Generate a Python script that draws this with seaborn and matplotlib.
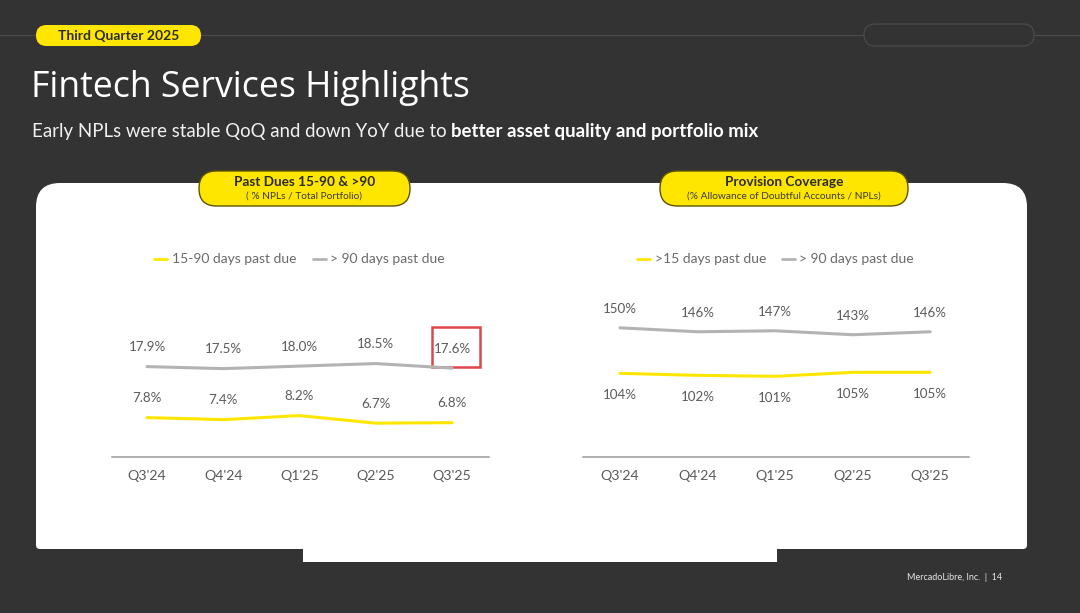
import numpy as np
import pandas as pd
import matplotlib
matplotlib.use('Agg')
import matplotlib.pyplot as plt
import seaborn as sns
from matplotlib.patches import FancyBboxPatch, Rectangle
from matplotlib.lines import Line2D

# ---------------- data ----------------
quarters = ["Q3'24", "Q4'24", "Q1'25", "Q2'25", "Q3'25"]
past_due_15_90 = [7.8, 7.4, 8.2, 6.7, 6.8]
past_due_90 = [17.9, 17.5, 18.0, 18.5, 17.6]
coverage_15 = [104, 102, 101, 105, 105]
coverage_90 = [150, 146, 147, 143, 146]

left_series = ["15-90 days past due", "> 90 days past due"]
right_series = [">15 days past due", "> 90 days past due"]

# ---------------- style ----------------
sns.set_theme(style='white')
plt.rcParams['font.family'] = ['Lato', 'DejaVu Sans']

BG = '#333333'
YEL = '#FFE600'
GRY = '#b3b3b3'
TXT = '#5a5a5a'

W, H = 1080, 613
fig = plt.figure(figsize=(W / 100, H / 100), dpi=100, facecolor=BG)
bg = fig.add_axes([0, 0, 1, 1])
bg.set_xlim(0, W)
bg.set_ylim(H, 0)
bg.axis('off')

# top rule and pills
for xa, xb in [(0, 36), (201, 864), (1034, 1080)]:
    bg.plot([xa, xb], [35, 35], color='#4a4a4a', lw=0.9, zorder=1)
bg.add_patch(FancyBboxPatch((36, 25), 165, 21, boxstyle='round,pad=0,rounding_size=10.5',
                            fc=YEL, ec='none', zorder=2))
bg.text(118.5, 36, 'Third Quarter 2025', ha='center', va='center', fontsize=10,
        fontweight='bold', color='#2b2b2b', zorder=3)
bg.add_patch(FancyBboxPatch((864, 24), 170, 22, boxstyle='round,pad=0,rounding_size=11',
                            fc=BG, ec='#4a4a4a', lw=0.9, zorder=2))

# title and subtitle
bg.text(31, 97, 'Fintech Services Highlights', ha='left', va='baseline', fontsize=25.7,
        color='#ffffff', family=['Open Sans', 'DejaVu Sans'])
t1 = bg.text(32, 136.5, 'Early NPLs were stable QoQ and down YoY due to', ha='left',
             va='baseline', fontsize=13.4, color='#f2f2f2')
renderer = fig.canvas.get_renderer()
bb = t1.get_window_extent(renderer)
x_end = bg.transData.inverted().transform((bb.x1, bb.y0))[0]
bg.text(x_end + 4.5, 136.5, 'better asset quality and portfolio mix', ha='left',
        va='baseline', fontsize=13.4, fontweight='bold', color='#ffffff')

# white card
bg.add_patch(FancyBboxPatch((36, 183), 991, 366, boxstyle='round,pad=0,rounding_size=24',
                            fc='white', ec='none', zorder=1))
bg.add_patch(FancyBboxPatch((36, 420), 991, 129, boxstyle='round,pad=0,rounding_size=4',
                            fc='white', ec='none', zorder=1))
bg.add_patch(Rectangle((303, 530), 474, 32, fc='white', ec='none', zorder=1))

# chart header pills
def header(x0, x1, title, sub):
    bg.add_patch(FancyBboxPatch((x0, 171), x1 - x0, 35, boxstyle='round,pad=0,rounding_size=17.5',
                                fc=YEL, ec='#5e5400', lw=1.0, zorder=3))
    cx = (x0 + x1) / 2
    bg.text(cx, 182, title, ha='center', va='center', fontsize=9.8, fontweight='bold',
            color='#2b2b2b', zorder=4)
    bg.text(cx, 196, sub, ha='center', va='center', fontsize=7.3, color='#3a3a3a', zorder=4)

header(199, 410, 'Past Dues 15-90 & >90', '( % NPLs / Total Portfolio)')
header(660, 908, 'Provision Coverage', '(% Allowance of Doubtful Accounts / NPLs)')

# legends (pixel positions)
def legend_item(x_line, x_text, y, color, label):
    bg.add_line(Line2D([x_line, x_line + 13], [y, y], color=color, lw=2, zorder=4))
    bg.text(x_text, y, label, ha='left', va='center', fontsize=10.0, color='#6a6a6a', zorder=4)

legend_item(154, 172, 259, YEL, left_series[0])
legend_item(313, 330, 259, GRY, left_series[1])
legend_item(637, 655, 259, YEL, right_series[0])
legend_item(782, 799, 259, GRY, right_series[1])

# footer
bg.text(1002, 578, 'MercadoLibre, Inc.  |  14', ha='right', va='center', fontsize=6.5,
        color='#e6e6e6')


def px_axes(x0, x1, ytop, ybot):
    ax = fig.add_axes([x0 / W, 1 - ybot / H, (x1 - x0) / W, (ybot - ytop) / H])
    ax.set_facecolor('none')
    return ax


def style_axes(ax, xlim, ylim):
    ax.set_xlim(*xlim)
    ax.set_ylim(*ylim)
    for s in ['top', 'left', 'right']:
        ax.spines[s].set_visible(False)
    ax.spines['bottom'].set_color('#9a9a9a')
    ax.spines['bottom'].set_linewidth(1.1)
    ax.set_xticks(range(len(quarters)))
    ax.set_xticklabels(quarters)
    ax.set_yticks([])
    ax.tick_params(axis='x', length=0, pad=9, labelsize=10.2, labelcolor=TXT)
    ax.set_xlabel('')
    ax.set_ylabel('')


LBL = 9.6

# ---------------- left chart ----------------
axL = px_axes(112, 489, 290, 457)
dfL = pd.DataFrame({
    'quarter': quarters * 2,
    'value': past_due_15_90 + past_due_90,
    'series': [left_series[0]] * 5 + [left_series[1]] * 5,
})
sns.lineplot(data=dfL, x='quarter', y='value', hue='series', sort=False,
             palette={left_series[0]: YEL, left_series[1]: GRY}, linewidth=2.2,
             legend=False, ax=axL)
style_axes(axL, (-0.46, 4.485), (0, 33.07))
for vals in (past_due_15_90, past_due_90):
    for i, v in enumerate(vals):
        axL.annotate(f'{v:.1f}%', (i, v), xytext=(0, 14), textcoords='offset points',
                     ha='center', va='center', fontsize=LBL, color=TXT)

# highlight box around latest >90 value
bg.add_patch(Rectangle((432, 327), 48, 40, fill=False, ec='#e0454b', lw=1.8, zorder=5))

# ---------------- right chart ----------------
axR = px_axes(583, 969, 290, 457)
dfR = pd.DataFrame({
    'quarter': quarters * 2,
    'value': coverage_15 + coverage_90,
    'series': [right_series[0]] * 5 + ['>90'] * 5,
})
sns.lineplot(data=dfR, x='quarter', y='value', hue='series', sort=False,
             palette={right_series[0]: YEL, '>90': GRY}, linewidth=2.2,
             legend=False, ax=axR)
style_axes(axR, (-0.477, 4.50), (19.5, 188.2))
for i, v in enumerate(coverage_90):
    axR.annotate(f'{v:d}%', (i, v), xytext=(0, 13.3), textcoords='offset points',
                 ha='center', va='center', fontsize=LBL, color=TXT)
for i, v in enumerate(coverage_15):
    axR.annotate(f'{v:d}%', (i, v), xytext=(0, -15.5), textcoords='offset points',
                 ha='center', va='center', fontsize=LBL, color=TXT)

fig.savefig('out.png', dpi=100, facecolor=BG)
